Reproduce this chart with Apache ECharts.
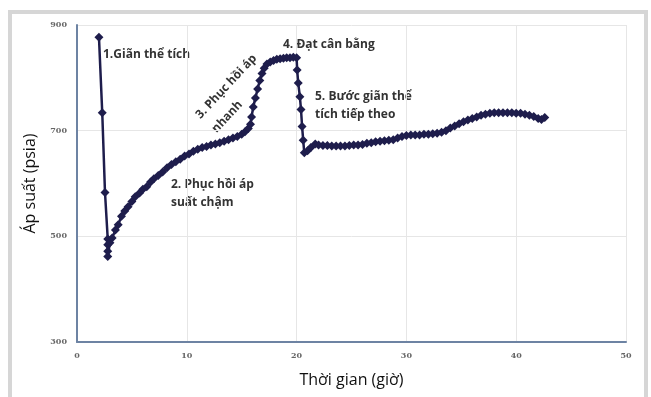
<!DOCTYPE html>
<html>
<head>
<meta charset="utf-8">
<script src="https://cdn.jsdelivr.net/npm/echarts@6/dist/echarts.min.js"></script>
<style>html,body{margin:0;padding:0;background:#fff}#c{width:651px;height:397px}</style>
</head>
<body>
<div id="c"></div>
<script>
// Data
const timeH = [2.0,2.3,2.55,2.8,2.8,2.8,2.8,
  3.0,3.2,3.5,3.75,4.05,4.35,4.65,5.0,5.3,5.7,6.0,6.35,6.7,7.0,7.4,7.8,8.2,8.6,9.0,9.4,9.8,10.2,10.6,11.0,11.4,11.8,12.2,12.6,13.0,13.4,13.8,14.2,14.6,15.0,15.3,15.6,15.8,
  15.9,16.05,16.25,16.45,16.65,16.85,17.05,17.3,17.6,17.9,18.2,18.5,18.8,19.1,19.4,19.7,20.0,
  20.05,20.15,20.3,20.4,20.5,20.6,20.7,
  21.0,21.3,21.7,22.0,22.4,22.8,23.2,23.6,24.0,24.4,24.8,25.2,25.6,26.0,26.4,26.8,27.2,27.6,28.0,28.4,28.8,29.2,29.6,30.0,30.4,30.8,31.2,31.6,32.0,32.4,32.8,33.2,33.6,34.0,34.4,34.8,35.2,35.6,36.0,36.4,36.8,37.2,37.6,38.0,38.4,38.8,39.2,39.6,40.0,40.4,40.8,41.2,41.6,42.0,42.3,42.6,43.0];
const pressure = [877,734,583,495,484,472,462,
  488,497,512,522,538,548,556,566,575,582,589,594,603,609,615,622,630,636,641,646,652,656,661,665,668,670,673,675,677,680,683,686,689,693,698,704,712,
  726,745,762,779,795,808,818,826,830,833,835,836,837,838,838,839,838,
  815,790,764,740,708,682,658,
  662,668,675,673,672,672,671,671,671,671,672,673,673,674,676,677,679,680,681,682,683,686,689,691,692,692,692,693,693,694,695,697,700,705,709,713,717,720,723,726,729,731,733,734,734,734,734,734,733,733,731,729,727,723,721,725];
const xTicks = [0,10,20,30,40,50];
const yTicks = [300,500,700,900];
const annotations = [
  {text:'1.Giãn thể tích', x:103, y:55},
  {text:'2. Phục hồi áp', x:171, y:185},
  {text:'suất chậm', x:171, y:203},
  {text:'4. Đạt cân bằng', x:283, y:45},
  {text:'5. Bước giãn thể', x:315, y:97},
  {text:'tích tiếp theo', x:315, y:115}
];
const rotated = [
  {text:'3. Phục hồi áp', x:198, y:117},
  {text:'nhanh', x:214, y:131}
];

const chart = echarts.init(document.getElementById('c'), null, {renderer:'canvas'});
const pts = timeH.map((t,i)=>[t, pressure[i]]);
const annFont = 'bold 12px "Open Sans", sans-serif';
const rotFont = 'bold 12px "Open Sans", sans-serif';
const graphics = [
  {type:'rect', shape:{x:10,y:12,width:636,height:400}, style:{fill:'none', stroke:'#d6d6d6', lineWidth:4}, z:-1}
];
annotations.forEach(a=>graphics.push({type:'text', x:a.x, y:a.y, style:{text:a.text, font:annFont, fill:'#333', textVerticalAlign:'middle', textAlign:'left'}}));
rotated.forEach(a=>graphics.push({type:'text', x:a.x, y:a.y, rotation:47*Math.PI/180, style:{text:a.text, font:rotFont, fill:'#333', textVerticalAlign:'middle', textAlign:'left'}}));

chart.setOption({
  animation:false,
  backgroundColor:'#ffffff',
  grid:{left:77, right:25, top:25, bottom:55, containLabel:false},
  xAxis:{type:'value', min:xTicks[0], max:xTicks[xTicks.length-1], interval:10,
    name:'Thời gian (giờ)', nameLocation:'middle', nameGap:30,
    nameTextStyle:{fontSize:16, color:'#111', fontFamily:'Open Sans'},
    axisLine:{show:true, onZero:false, lineStyle:{color:'#6d83a3', width:2}},
    axisTick:{show:false},
    axisLabel:{fontSize:8, fontWeight:'bold', color:'#666', margin:10, fontFamily:'DejaVu Serif'},
    splitLine:{show:true, lineStyle:{color:'#e6e6e6', width:1}}
  },
  yAxis:{type:'value', min:yTicks[0], max:yTicks[yTicks.length-1], interval:200,
    name:'Áp suất (psia)', nameLocation:'middle', nameGap:39, nameRotate:90,
    nameTextStyle:{fontSize:16, color:'#111', fontFamily:'Open Sans'},
    axisLine:{show:true, onZero:false, lineStyle:{color:'#6d83a3', width:2}},
    axisTick:{show:false},
    axisLabel:{fontSize:8, fontWeight:'bold', color:'#666', margin:10, fontFamily:'DejaVu Serif'},
    splitLine:{show:true, lineStyle:{color:'#e6e6e6', width:1}}
  },
  series:[{type:'line', data:pts, symbol:'diamond', symbolSize:9, showSymbol:true,
    lineStyle:{color:'#1e1d4c', width:2.5}, itemStyle:{color:'#1e1d4c'}}],
  graphic:graphics
});
</script>
</body>
</html>
